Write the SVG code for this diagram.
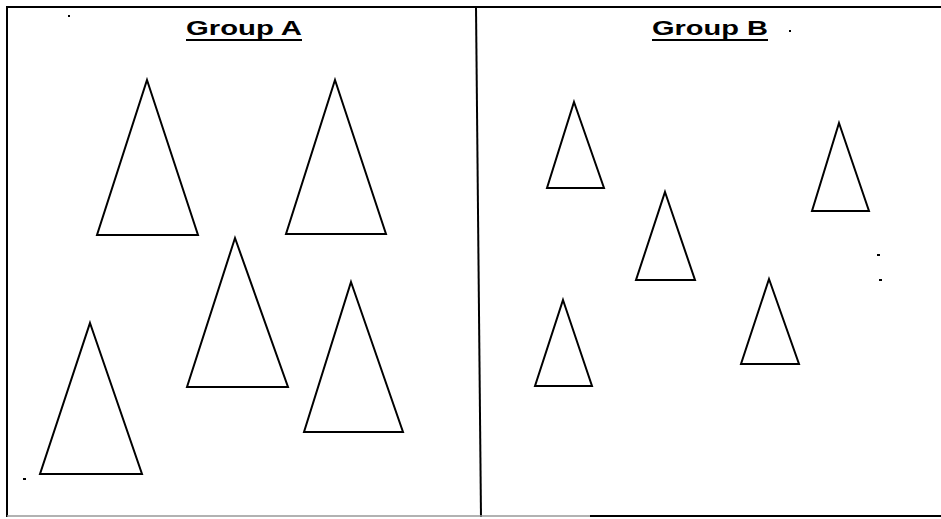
<svg xmlns="http://www.w3.org/2000/svg" width="941" height="519" viewBox="0 0 941 519">
<style>
.tri{fill:none;stroke:#000;stroke-width:2;stroke-linejoin:miter}
.frame{stroke:#000;stroke-width:2;fill:none}
.title{font-family:"Liberation Sans",Arial,sans-serif;font-weight:bold;font-size:21px;fill:#000}
.ul{stroke:#000;stroke-width:2}
.speck{fill:#000}
</style>
<rect width="941" height="519" fill="#fff"/>
<g id="frame">
<line class="frame" x1="7" y1="7" x2="941" y2="7"/>
<line class="frame" x1="7" y1="6" x2="7" y2="517"/>
<line class="frame" x1="476" y1="7" x2="481" y2="517"/>
<line x1="7" y1="516" x2="941" y2="516" stroke="#999" stroke-width="1.5"/>
<line x1="590" y1="516" x2="941" y2="516" stroke="#000" stroke-width="2"/>
</g>
<g id="groupA">
<g id="titleA">
<text class="title" x="186" y="35" textLength="116" lengthAdjust="spacingAndGlyphs">Group A</text>
<line class="ul" x1="186" y1="40" x2="302" y2="40"/>
</g>
<polygon id="a1" class="tri" points="147,80 198,235 97,235"/>
<polygon id="a2" class="tri" points="335,80 386,234 286,234"/>
<polygon id="a3" class="tri" points="235,238 288,387 187,387"/>
<polygon id="a4" class="tri" points="351,282 403,432 304,432"/>
<polygon id="a5" class="tri" points="90,323 142,474 40,474"/>
</g>
<g id="groupB">
<g id="titleB">
<text class="title" x="652" y="35" textLength="116" lengthAdjust="spacingAndGlyphs">Group B</text>
<line class="ul" x1="652" y1="40" x2="768" y2="40"/>
</g>
<polygon id="b1" class="tri" points="574,102 604,188 547,188"/>
<polygon id="b2" class="tri" points="839,123 869,211 812,211"/>
<polygon id="b3" class="tri" points="665,192 695,280 636,280"/>
<polygon id="b4" class="tri" points="563,300 592,386 535,386"/>
<polygon id="b5" class="tri" points="769,279 799,364 741,364"/>
</g>
<g id="specks">
<rect class="speck" x="877" y="254" width="3" height="2"/>
<rect class="speck" x="879" y="279" width="3" height="2"/>
<rect class="speck" x="23" y="478" width="3" height="2"/>
<rect class="speck" x="789" y="30" width="2" height="2"/>
<rect class="speck" x="68" y="15" width="2" height="2"/>
</g>
</svg>
